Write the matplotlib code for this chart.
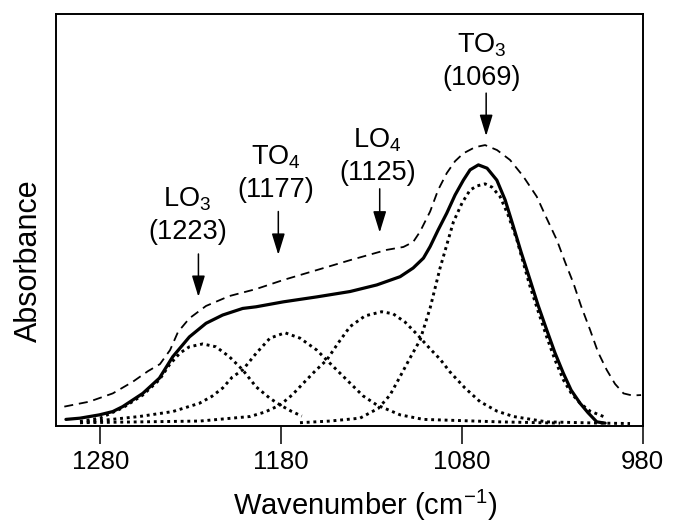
import matplotlib
matplotlib.use("Agg")
import matplotlib.pyplot as plt

plt.rcParams['font.family'] = ['Liberation Sans', 'DejaVu Sans']
plt.rcParams['mathtext.default'] = 'regular'

# measured spectrum (dashed) and fitted sum (solid), absorbance in a.u.
meas_wn = [1299.9, 1286.1, 1273.1, 1262.1, 1253.6, 1247.0, 1241.4, 1237.0, 1230.7, 1221.5,
           1208.6, 1193.8, 1178.7, 1160.2, 1141.8, 1121.5, 1112.3, 1106.9, 1103.1, 1097.5,
           1093.1, 1088.3, 1083.7, 1079.1, 1072.6, 1067.1, 1060.5, 1053.3, 1046.1, 1038.5,
           1033.4, 1027.4, 1022.9, 1018.2, 1014.0, 1009.0, 1004.6, 999.8, 995.2, 990.5,
           985.7, 980.8]
meas_abs = [0.047, 0.059, 0.079, 0.107, 0.133, 0.150, 0.184, 0.228, 0.261, 0.291,
            0.315, 0.332, 0.354, 0.378, 0.402, 0.427, 0.434, 0.446, 0.471, 0.520,
            0.572, 0.613, 0.642, 0.661, 0.676, 0.681, 0.669, 0.645, 0.606, 0.556,
            0.507, 0.451, 0.398, 0.346, 0.291, 0.233, 0.179, 0.136, 0.102, 0.079,
            0.074, 0.075]

fit_wn = [1299.0, 1291.2, 1280.5, 1273.1, 1267.6, 1256.5, 1247.3, 1239.9, 1230.7, 1221.5,
          1212.3, 1201.2, 1193.8, 1178.7, 1160.2, 1141.8, 1127.0, 1114.1, 1106.9, 1101.2,
          1097.5, 1093.1, 1088.3, 1083.7, 1079.1, 1075.4, 1070.8, 1066.0, 1060.6, 1056.0,
          1051.4, 1047.2, 1042.2, 1037.8, 1033.0, 1028.4, 1023.8, 1019.5, 1014.5, 1010.1,
          1005.3, 1000.7]
fit_abs = [0.016, 0.019, 0.027, 0.035, 0.047, 0.079, 0.116, 0.168, 0.216, 0.249,
           0.269, 0.285, 0.289, 0.301, 0.313, 0.326, 0.342, 0.362, 0.383, 0.407,
           0.435, 0.475, 0.516, 0.560, 0.596, 0.621, 0.633, 0.625, 0.596, 0.548,
           0.483, 0.422, 0.354, 0.293, 0.233, 0.177, 0.128, 0.087, 0.055, 0.032,
           0.010, 0.007]

# deconvoluted bands (dotted)
lo3_wn = [1291.2, 1280.1, 1267.6, 1256.5, 1247.3, 1241.8, 1235.9, 1230.7, 1223.3, 1216.0,
          1208.6, 1201.2, 1193.8, 1186.1, 1180.5, 1174.4, 1168.5]
lo3_abs = [0.011, 0.019, 0.044, 0.075, 0.112, 0.148, 0.177, 0.192, 0.199, 0.192,
           0.168, 0.136, 0.095, 0.067, 0.051, 0.036, 0.024]

to4_wn = [1291.2, 1258.4, 1239.9, 1225.2, 1218.2, 1212.3, 1207.1, 1201.2, 1193.8, 1186.1,
          1177.8, 1169.5, 1160.2, 1152.9, 1141.8, 1134.6, 1127.0, 1114.1, 1101.2, 1058.8,
          1025.6]
to4_abs = [0.008, 0.023, 0.035, 0.055, 0.072, 0.092, 0.118, 0.136, 0.176, 0.213,
           0.226, 0.213, 0.184, 0.152, 0.104, 0.073, 0.051, 0.027, 0.016, 0.010,
           0.007]

lo4_wn = [1291.2, 1224.8, 1197.1, 1188.8, 1180.5, 1173.9, 1167.6, 1161.2, 1154.7, 1148.4,
          1141.8, 1133.5, 1124.3, 1118.0, 1111.4, 1104.9, 1097.5, 1092.0, 1086.5, 1078.2,
          1069.9, 1060.5, 1051.4, 1033.0, 1003.4, 986.9]
lo4_abs = [0.008, 0.012, 0.023, 0.034, 0.051, 0.075, 0.104, 0.133, 0.160, 0.201,
           0.241, 0.267, 0.277, 0.272, 0.252, 0.223, 0.187, 0.162, 0.131, 0.092,
           0.059, 0.036, 0.023, 0.010, 0.007, 0.006]

to3_wn = [1169.5, 1152.9, 1136.3, 1126.1, 1119.7, 1114.1, 1108.6, 1103.1, 1097.5, 1092.0,
          1084.6, 1079.8, 1075.4, 1071.6, 1067.1, 1063.3, 1058.8, 1054.4, 1049.5, 1046.1,
          1042.2, 1037.8, 1033.0, 1028.4, 1023.8, 1019.5, 1014.5, 1009.0, 1001.6]
to3_abs = [0.008, 0.012, 0.019, 0.043, 0.075, 0.120, 0.165, 0.208, 0.286, 0.383,
           0.495, 0.541, 0.572, 0.582, 0.587, 0.579, 0.556, 0.512, 0.451, 0.398,
           0.338, 0.279, 0.216, 0.160, 0.112, 0.080, 0.055, 0.036, 0.023]

peak_names = ['LO$_3$', 'TO$_4$', 'LO$_4$', 'TO$_3$']
peak_pos = [1223, 1177, 1125, 1069]

x_ticks = [1280, 1180, 1080, 980]

# label layout: text centre / last baseline, arrow x / tail / tip
label_xy = [(1231.7, 0.453), (1183.0, 0.556), (1126.5, 0.596), (1068.8, 0.827)]
arrow_xyy = [(1225.7, 0.417, 0.313), (1181.5, 0.520, 0.415),
             (1125.4, 0.575, 0.469), (1066.5, 0.807, 0.703)]

fig = plt.figure(figsize=(6.75, 5.23), dpi=100)
ax = fig.add_axes([56 / 675, 1 - 426 / 523, 586.5 / 675, 412.5 / 523])

dot = dict(color='black', lw=2.1, linestyle=(0, (1, 1.3)))
for wn, ab in [(lo3_wn, lo3_abs), (to4_wn, to4_abs), (lo4_wn, lo4_abs), (to3_wn, to3_abs)]:
    ax.plot(wn, ab, **dot)

ax.plot(meas_wn, meas_abs, color='black', lw=1.3, linestyle=(0, (5, 3.2)))
ax.plot(fit_wn, fit_abs, color='black', lw=2.3, solid_capstyle='round')

ax.set_xlim(1304.5, 980)
ax.set_ylim(0, 1)
ax.set_xticks(x_ticks)
ax.set_xticklabels([str(t) for t in x_ticks])
ax.set_yticks([])
ax.tick_params(axis='x', direction='out', length=13, width=1.1, labelsize=18.5, pad=4)
for sp in ax.spines.values():
    sp.set_linewidth(1.4)

for name, pos, (tx, ty), (axx, ya, yb) in zip(peak_names, peak_pos, label_xy, arrow_xyy):
    ax.text(tx, ty, name + '\n(' + str(pos) + ')', ha='center', va='baseline',
            fontsize=19.5, linespacing=1.29, multialignment='center')
    ax.annotate('', xy=(axx, yb), xytext=(axx, ya),
                arrowprops=dict(arrowstyle='-|>,head_length=1.3,head_width=0.4',
                                color='black', lw=1.1, shrinkA=0, shrinkB=0))

ax.set_xlabel('Wavenumber (cm$^{-1}$)', fontsize=21)
ax.xaxis.set_label_coords(0.527, -0.216)
ax.xaxis.label.set_va('baseline')
ax.set_ylabel('Absorbance', fontsize=22)
ax.yaxis.set_label_coords(-0.033, 0.40)
ax.yaxis.label.set_va('baseline')

fig.savefig('out.png', dpi=100)
